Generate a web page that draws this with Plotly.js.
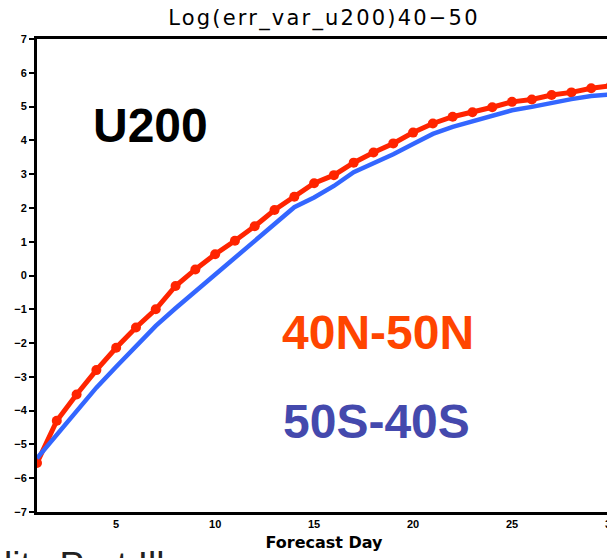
<!DOCTYPE html>
<html>
<head>
<meta charset="utf-8">
<script src="https://cdn.plot.ly/plotly-3.0.1.min.js"></script>
<style>
  html, body { margin: 0; padding: 0; background: #fff; overflow: hidden; }
  #chart { width: 615px; height: 558px; }
  #chart .gtitle { letter-spacing: 2.2px; }
</style>
</head>
<body>
<div id="chart"></div>
<script>
// Forecast day axis
const days = [1,2,3,4,5,6,7,8,9,10,11,12,13,14,15,16,17,18,19,20,21,22,23,24,25,26,27,28,29,30];

// Log of error variance, U200, 40N-50N (with markers)
const nhErr = [-5.55,-4.30,-3.52,-2.80,-2.14,-1.54,-1.00,-0.31,0.18,0.63,
               1.03,1.46,1.94,2.33,2.73,2.97,3.34,3.64,3.91,4.23,
               4.50,4.70,4.83,4.98,5.14,5.21,5.34,5.42,5.54,5.62];

// Log of error variance, U200, 50S-40S
const shErr = [-5.41,-4.70,-3.98,-3.32,-2.70,-2.09,-1.49,-0.97,-0.47,0.01,
               0.54,1.03,1.54,2.02,2.31,2.65,3.06,3.32,3.59,3.89,
               4.19,4.40,4.57,4.72,4.89,4.99,5.12,5.22,5.31,5.36];

const xTicks = [5,10,15,20,25,30];
const yTicks = [-7,-6,-5,-4,-3,-2,-1,0,1,2,3,4,5,6,7];

const tickFont = {family: 'Liberation Sans, Arial, sans-serif', size: 11, color: '#000', weight: 'bold'};

const traces = [
  {
    x: days, y: nhErr, type: 'scatter', mode: 'lines+markers',
    line: {color: '#ff2400', width: 5},
    marker: {color: '#ff2400', size: 10, symbol: 'circle'},
    hoverinfo: 'skip', showlegend: false
  },
  {
    x: days, y: shErr, type: 'scatter', mode: 'lines',
    line: {color: '#3366ff', width: 4.5},
    hoverinfo: 'skip', showlegend: false
  }
];

const layout = {
  width: 615, height: 558,
  margin: {l: 37, r: 4, t: 39, b: 46},
  paper_bgcolor: '#fff', plot_bgcolor: '#fff',
  title: {
    text: 'Log(err_var_u200)40\u221250',
    font: {family: 'DejaVu Sans, sans-serif', size: 21, color: '#000'},
    x: 0.5, xref: 'paper', y: 1 - 18 / 558, yref: 'container', yanchor: 'middle'
  },
  xaxis: {
    range: [1, 30], tickvals: xTicks, ticktext: xTicks.map(String),
    ticks: '', showgrid: false, zeroline: false,
    showline: true, linecolor: '#000', linewidth: 3, mirror: true,
    tickfont: tickFont, ticklabeloverflow: 'allow',
    title: {text: 'Forecast Day', standoff: 8,
            font: {family: 'DejaVu Sans, sans-serif', size: 16, color: '#000', weight: 'bold'}}
  },
  yaxis: {
    range: [-7, 7], tickvals: yTicks,
    ticks: 'outside', ticklen: 5, tickwidth: 2, tickcolor: '#000',
    showgrid: false, zeroline: false,
    showline: true, linecolor: '#000', linewidth: 3, mirror: true,
    tickfont: tickFont
  },
  annotations: [
    {text: '<b>U200</b>', xref: 'paper', yref: 'paper', x: (150 - 37) / 574, y: (512 - 126) / 473,
     xanchor: 'center', yanchor: 'middle', showarrow: false,
     font: {family: 'Liberation Sans, Arial, sans-serif', size: 48, color: '#000'}},
    {text: '<b>40N-50N</b>', xref: 'paper', yref: 'paper', x: (378 - 37) / 574, y: (512 - 333) / 473,
     xanchor: 'center', yanchor: 'middle', showarrow: false,
     font: {family: 'Liberation Sans, Arial, sans-serif', size: 48, color: '#ff4500'}},
    {text: '<b>50S-40S</b>', xref: 'paper', yref: 'paper', x: (376 - 37) / 574, y: (512 - 421) / 473,
     xanchor: 'center', yanchor: 'middle', showarrow: false,
     font: {family: 'Liberation Sans, Arial, sans-serif', size: 48, color: '#4449ad'}},
    {text: 'lity Port Ill', xref: 'paper', yref: 'paper', x: (2 - 37) / 574, y: (512 - 543) / 473,
     xanchor: 'left', yanchor: 'top', showarrow: false,
     font: {family: 'Liberation Sans, Arial, sans-serif', size: 37, color: '#222'}}
  ]
};

Plotly.newPlot('chart', traces, layout, {staticPlot: true, displayModeBar: false});
</script>
</body>
</html>
